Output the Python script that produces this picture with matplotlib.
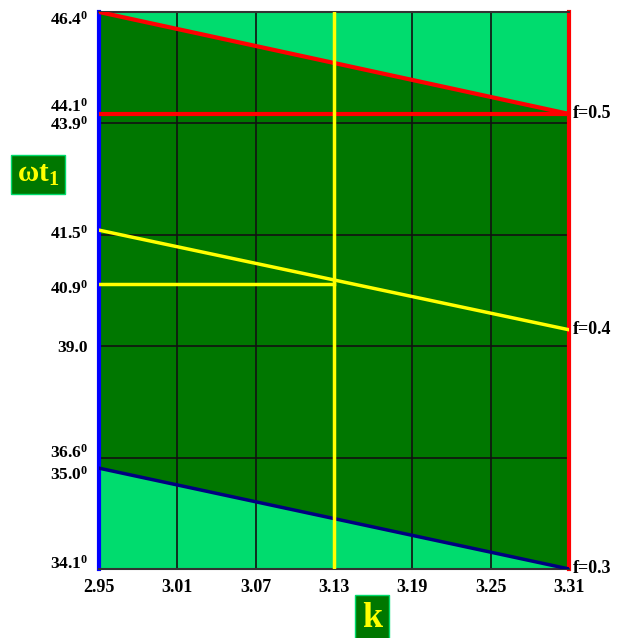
import numpy as np
import matplotlib
matplotlib.use('Agg')
import matplotlib.pyplot as plt
from matplotlib.transforms import ScaledTranslation

plt.rcParams['font.family'] = ['Liberation Serif', 'DejaVu Serif']
plt.rcParams['font.weight'] = 'bold'
plt.rcParams['mathtext.fontset'] = 'custom'
plt.rcParams['mathtext.rm'] = 'Liberation Serif:bold'
plt.rcParams['mathtext.it'] = 'Liberation Serif:bold'
plt.rcParams['mathtext.bf'] = 'Liberation Serif:bold'

# data
k = [2.95, 3.31]
wt_f05 = [46.4, 44.1]
wt_f04 = [41.6, 39.5]
wt_f03 = [35.0, 34.1]
k_mark = 3.13
wt_mark = 40.9
wt_f05_level = 44.1

k_ticks = [2.95, 3.01, 3.07, 3.13, 3.19, 3.25, 3.31]
wt_ticks = [34.1, 35.0, 36.6, 39.0, 40.9, 41.5, 43.9, 44.1, 46.4]
wt_labels = ['34.1$^0$', '35.0$^0$', '36.6$^0$', '39.0', '40.9$^0$',
             '41.5$^0$', '43.9$^0$', '44.1$^0$', '46.4$^0$']
wt_grid = [36.6, 39.0, 41.5, 43.9]
f_labels = ['f=0.5', 'f=0.4', 'f=0.3']

# the y axis of the original is not linear: map tick values to where they sit
tick_pos = [0.0, 0.181, 0.2, 0.4, 0.512, 0.6, 0.8, 0.817, 1.0]
# small vertical nudges (px, + = down) so crowded labels don't collide
label_shift = [-7, 5, -7, 0, 3, -3, -1, -9, 6]


def fwd(v):
    return np.interp(v, wt_ticks, tick_pos)


def inv(p):
    return np.interp(p, tick_pos, wt_ticks)


LIGHT = '#00dc6e'
DARK = '#007700'

fig = plt.figure(figsize=(6.21, 6.38), dpi=100)
ax = fig.add_axes([0.1594, 0.1082, 0.7568, 0.873])
ax.set_yscale('function', functions=(fwd, inv))
ax.set_facecolor(LIGHT)

ax.fill_between(k, wt_f03, wt_f05, color=DARK, zorder=1, linewidth=0)

for x in k_ticks[1:-1]:
    ax.axvline(x, color='#111111', linewidth=1.2, zorder=2)
for y in wt_grid:
    ax.axhline(y, color='#111111', linewidth=1.2, zorder=2)

ax.plot(k, wt_f05, color='#ff0000', linewidth=3, zorder=3)
ax.axhline(wt_f05_level, color='#ff0000', linewidth=3, zorder=3)
ax.plot(k, wt_f04, color='#ffff00', linewidth=2.5, zorder=3)
ax.plot(k, wt_f03, color='#000080', linewidth=2.5, zorder=3)
ax.axvline(k_mark, color='#ffff00', linewidth=2.5, zorder=4)
ax.plot([k[0], k_mark], [wt_mark, wt_mark], color='#ffff00', linewidth=2.5, zorder=4)

ax.set_xlim(k[0], k[-1])
ax.set_ylim(wt_ticks[0], wt_ticks[-1])
ax.set_xticks(k_ticks)
ax.set_xticklabels([f'{v:.2f}' for v in k_ticks])
ax.set_yticks(wt_ticks)
ax.set_yticklabels(wt_labels)
ax.tick_params(axis='x', length=0, labelsize=13, pad=7)
ax.tick_params(axis='y', length=0, labelsize=12.5, pad=8)

for lab, dy in zip(ax.get_yticklabels(), label_shift):
    lab.set_transform(lab.get_transform()
                      + ScaledTranslation(0, -dy / 100, fig.dpi_scale_trans))

ax.spines['left'].set_color('#0000ff')
ax.spines['left'].set_linewidth(3)
ax.spines['right'].set_color('#ff0000')
ax.spines['right'].set_linewidth(3)
for s in ['top', 'bottom']:
    ax.spines[s].set_color('#333333')
    ax.spines[s].set_linewidth(1.5)

ends = [wt_f05[-1], wt_f04[-1], wt_f03[-1]]
for lab, y in zip(f_labels, ends):
    ax.text(1.008, fwd(y), lab, transform=ax.transAxes, fontsize=13,
            fontweight='bold', va='center', ha='left')

fig.text(0.061, 0.726, 'ωt$_1$', color='#ffff00', fontsize=21, fontweight='bold',
         ha='center', va='center',
         bbox=dict(boxstyle='square,pad=0.2', facecolor=DARK, edgecolor=LIGHT))
fig.text(0.599, 0.03, 'k', color='#ffff00', fontsize=26, fontweight='bold',
         ha='center', va='center',
         bbox=dict(boxstyle='square,pad=0.2', facecolor=DARK, edgecolor=LIGHT))

fig.savefig('out.png', dpi=100)
